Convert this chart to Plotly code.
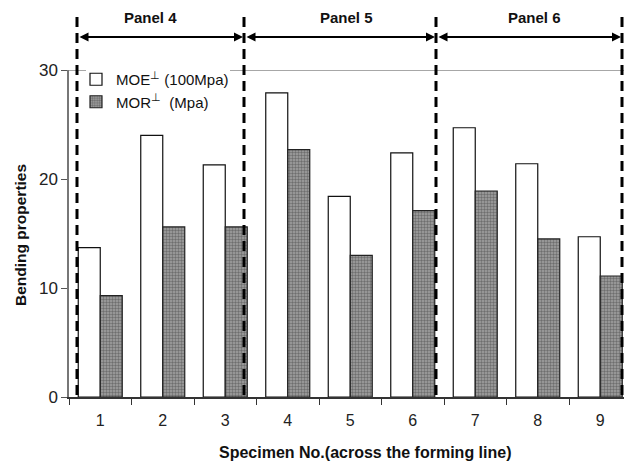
import plotly.graph_objects as go

specimens = ["1", "2", "3", "4", "5", "6", "7", "8", "9"]
moe = [13.7, 24.0, 21.3, 27.9, 18.4, 22.4, 24.7, 21.4, 14.7]
mor = [9.3, 15.6, 15.6, 22.7, 13.0, 17.1, 18.9, 14.5, 11.1]
panels = ["Panel 4", "Panel 5", "Panel 6"]
yticks = [0, 10, 20, 30]

FONT = "Liberation Sans, Arial, sans-serif"

# plot geometry in pixels (for shape placement)
L, R_PX = 69, 624
CAT_W = 62.5
def xi(px):  # pixel -> category index coordinate
    return -0.5 + (px - L) / CAT_W
def py(px):  # pixel -> paper y
    return (397 - px) / 327.0
def pxp(px):  # pixel -> paper x
    return (px - L) / (R_PX - L)

fig = go.Figure()
fig.add_trace(go.Bar(
    x=specimens, y=moe, name="MOE<sup>\u22a5</sup> (100Mpa)",
    marker=dict(color="white", line=dict(color="#111111", width=1.2)),
))
fig.add_trace(go.Bar(
    x=specimens, y=mor, name="MOR<sup>\u22a5</sup>  (Mpa)",
    marker=dict(color="#8a8a8a", line=dict(color="#222222", width=1.2),
                pattern=dict(shape=".", fgcolor="#3a3a3a", bgcolor="#a2a2a2",
                             size=3, solidity=0.5)),
))

# top frame line at y=30 (interrupted behind the legend)
for x0, x1 in [(0, pxp(86)), (pxp(230), 1)]:
    fig.add_shape(type="line", xref="paper", yref="y", x0=x0, x1=x1, y0=30, y1=30,
                  line=dict(color="#8a8a8a", width=1.5), layer="below")

# dashed panel separators
sep_px = [77, 244, 436, 622]
for p in sep_px:
    fig.add_shape(type="line", xref="x", yref="paper", x0=xi(p), x1=xi(p),
                  y0=py(17), y1=0,
                  line=dict(color="black", width=3, dash="10px,6px"), layer="above")

# double-headed arrows and panel labels
label_px = [150, 346, 534]
for i, name in enumerate(panels):
    a, b = sep_px[i], sep_px[i + 1]
    fig.add_annotation(xref="paper", yref="paper", axref="pixel", ayref="pixel",
                       x=pxp(b - 1), y=py(37), ax=-(b - a - 2), ay=0,
                       text="", showarrow=True, arrowhead=2, arrowside="end+start",
                       arrowwidth=2, arrowsize=0.9, arrowcolor="black",
                       standoff=0, startstandoff=0)
    fig.add_annotation(xref="paper", yref="paper", x=pxp(label_px[i]), y=py(17),
                       text="<b>%s</b>" % name, showarrow=False,
                       font=dict(family=FONT, size=15, color="#111111"),
                       xanchor="center", yanchor="middle")

# axis titles
fig.add_annotation(xref="paper", yref="paper", x=pxp(365), y=py(452),
                   text="<b>Specimen No.(across the forming line)</b>", showarrow=False,
                   font=dict(family=FONT, size=16, color="#111111"),
                   xanchor="center", yanchor="middle")
fig.add_annotation(xref="paper", yref="paper", x=pxp(20), y=py(235),
                   text="<b>Bending properties</b>", showarrow=False, textangle=-90,
                   font=dict(family=FONT, size=15.5, color="#111111"),
                   xanchor="center", yanchor="middle")

fig.update_layout(
    width=624, height=467,
    margin=dict(l=L, r=0, t=70, b=70),
    paper_bgcolor="white", plot_bgcolor="white",
    barmode="group", bargap=0.296, bargroupgap=0,
    font=dict(family=FONT, size=14, color="#111111"),
    legend=dict(x=pxp(76), y=py(63), xanchor="left", yanchor="top",
                bgcolor="rgba(0,0,0,0)", font=dict(family=FONT, size=15, color="#111111"),
                tracegroupgap=0, itemwidth=30),
    showlegend=True,
)
fig.update_xaxes(type="category", range=[-0.5, xi(R_PX)], showgrid=False,
                 showline=True, linecolor="#333333", linewidth=1.5,
                 ticks="outside", tickson="boundaries", ticklen=6,
                 tickcolor="#333333", ticklabelstandoff=8,
                 tickfont=dict(size=16, color="#222222"))
fig.update_yaxes(range=[0, 30], tickvals=yticks, showgrid=False, zeroline=False,
                 showline=True, linecolor="#777777", linewidth=1.5,
                 ticks="outside", ticklen=6, tickcolor="#555555",
                 tickfont=dict(size=17, color="#222222"))

fig.write_html("out.html")
